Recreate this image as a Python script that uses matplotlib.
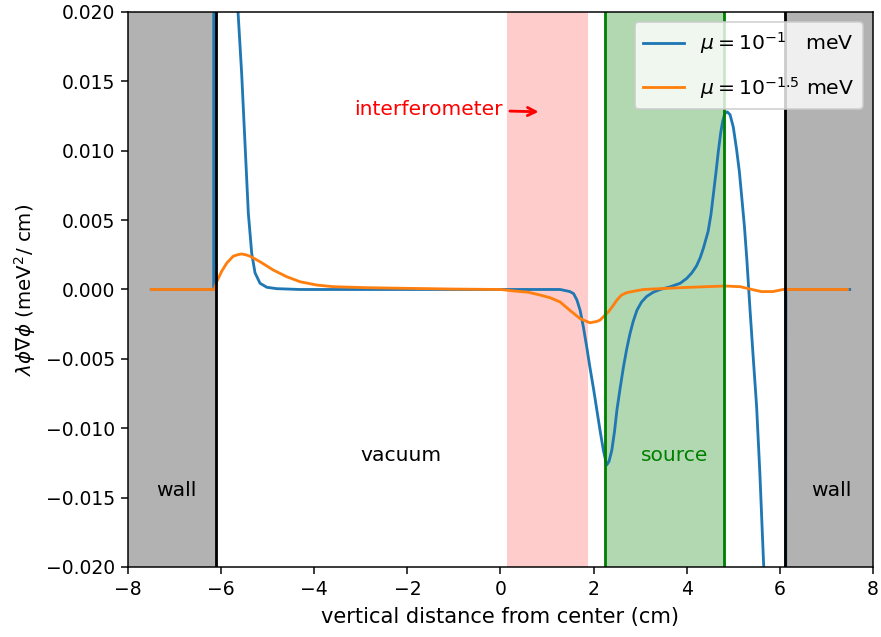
import matplotlib
matplotlib.use("Agg")
import matplotlib.pyplot as plt

# Blue curve: mu = 10^-1 meV
blue_x = [-7.5, -6.16, -6.15, -6.0, -5.85, -5.75, -5.637, -5.558, -5.487, -5.416,
          -5.343, -5.272, -5.165, -5.02, -4.81, -4.31, -3.0, 0.0, 1.0, 1.28, 1.49,
          1.57, 1.64, 1.71, 1.78, 1.85, 1.92, 2.0, 2.07, 2.14, 2.21, 2.28, 2.33,
          2.39, 2.45, 2.50, 2.57, 2.64, 2.71, 2.78, 2.85, 2.93, 3.03, 3.14, 3.28,
          3.43, 3.65, 3.86, 4.0, 4.11, 4.21, 4.29, 4.36, 4.41, 4.46, 4.52, 4.57,
          4.63, 4.68, 4.73, 4.77, 4.82, 4.87, 4.93, 5.0, 5.07, 5.13, 5.18, 5.24,
          5.29, 5.36, 5.43, 5.50, 5.57, 5.65, 5.8, 6.0, 6.12, 6.13, 7.5]
blue_y = [0.0, 0.0, 0.2, 0.08, 0.04, 0.028, 0.020, 0.0155, 0.0105, 0.0055,
          0.0026, 0.0012, 0.00045, 0.00016, 0.00006, 0.0, 0.0, 0.0, 0.0, 0.0, -0.00015,
          -0.0003, -0.00075, -0.0015, -0.0027, -0.0041, -0.0056, -0.0072, -0.0087, -0.0102, -0.0116, -0.01265, -0.0124,
          -0.0116, -0.0102, -0.0087, -0.0071, -0.0056, -0.0043, -0.0032, -0.0023, -0.0015, -0.0009, -0.0005, -0.0002,
          0.0, 0.0002, 0.00045, 0.0008, 0.0012, 0.0017, 0.0023, 0.0030, 0.0036, 0.0042, 0.0054, 0.0068,
          0.0085, 0.0100, 0.0113, 0.0121, 0.0127, 0.0128, 0.0126, 0.0117, 0.0101, 0.0085, 0.0067, 0.0045,
          0.0022, -0.0015, -0.0050, -0.0084, -0.0132, -0.0197, -0.030, -0.045, -0.055, 0.0, 0.0]

# Orange curve: mu = 10^-1.5 meV
orange_x = [-7.5, -6.15, -6.095, -5.99, -5.88, -5.74, -5.65, -5.558, -5.47, -5.38,
            -5.165, -4.879, -4.592, -4.306, -3.947, -3.59, -2.874, -2.158, -1.0, 0.0,
            0.27, 0.6, 0.85, 1.07, 1.28, 1.49, 1.71, 1.92, 2.07, 2.14, 2.23, 2.32,
            2.41, 2.50, 2.60, 2.71, 2.9, 3.07, 3.86, 4.4, 4.83, 5.15, 5.4, 5.6,
            5.85, 6.07, 7.45]
orange_y = [0.0, 0.0, 0.00056, 0.0013, 0.0019, 0.0024, 0.0025, 0.00256, 0.0025, 0.0024,
            0.0020, 0.0014, 0.00092, 0.00056, 0.00032, 0.0002, 0.00013, 0.00009, 0.00003, 0.0,
            -0.0001, -0.0002, -0.0004, -0.0006, -0.0009, -0.0015, -0.0021, -0.0024, -0.0023, -0.0022, -0.0019, -0.0016,
            -0.0012, -0.00076, -0.0004, -0.00023, -0.0001, 0.0, 0.00013, 0.0002, 0.00025, 0.0002, 0.0, -0.00015,
            -0.00015, 0.0, 0.0]

wall_left, wall_right = -6.1, 6.1
interf_lo, interf_hi = 0.14, 1.88
source_lo, source_hi = 2.25, 4.8

fig = plt.figure(figsize=(881 / 135, 637 / 135), dpi=135)
ax = fig.add_axes([0.1453, 0.1099, 0.9909 - 0.1453, 0.9812 - 0.1099])

ax.axvspan(-8, wall_left, color='gray', alpha=0.6, lw=0)
ax.axvspan(wall_right, 8, color='gray', alpha=0.6, lw=0)
ax.axvspan(interf_lo, interf_hi, color='red', alpha=0.2, lw=0)
ax.axvspan(source_lo, source_hi, color='green', alpha=0.3, lw=0)

ax.plot(blue_x, blue_y, color='#1f77b4', label=r'$\mu = 10^{-1}$   meV')
ax.plot(orange_x, orange_y, color='#ff7f0e', label=r'$\mu = 10^{-1.5}$ meV')

ax.axvline(wall_left, color='k')
ax.axvline(wall_right, color='k')
ax.axvline(source_lo, color='green')
ax.axvline(source_hi, color='green')

fs = 10.8
ax.text(-6.97, -0.0145, 'wall', ha='center', va='center', fontsize=fs)
ax.text(7.1, -0.0145, 'wall', ha='center', va='center', fontsize=fs)
ax.text(-2.14, -0.0120, 'vacuum', ha='center', va='center', fontsize=fs)
ax.text(3.75, -0.0120, 'source', ha='center', va='center', color='green', fontsize=fs)
ax.annotate('interferometer', xy=(0.9, 0.0128), xytext=(-3.15, 0.0130),
            color='red', va='center', ha='left', fontsize=fs,
            arrowprops=dict(arrowstyle='->', color='red', lw=1.5))

ax.set_xlim(-8, 8)
ax.set_ylim(-0.02, 0.02)
ax.set_xlabel('vertical distance from center (cm)', fontsize=11.2)
ax.set_ylabel(r'$\lambda\phi\nabla\phi$ (meV$^2$/ cm)', fontsize=10.6)
ax.legend(loc='upper right', fontsize=10.9, labelspacing=0.9)

fig.savefig('out.png', dpi=135)
